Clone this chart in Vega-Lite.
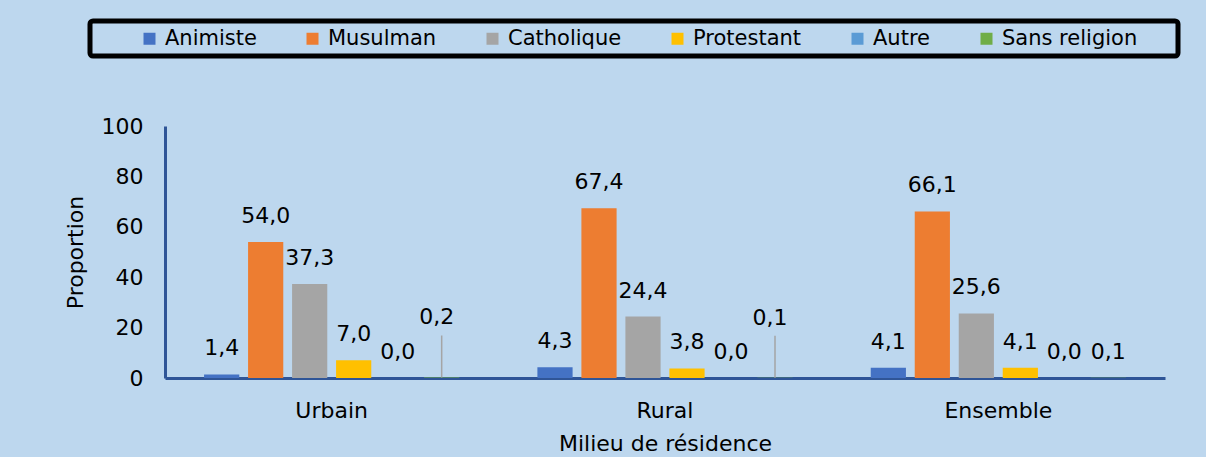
{
  "$schema": "https://vega.github.io/schema/vega-lite/v6.json",
  "width": 1000,
  "height": 252,
  "autosize": {"type": "none"},
  "padding": {"left": 165, "top": 126, "right": 41, "bottom": 79},
  "background": "#BDD7EE",
  "config": {
    "view": {"stroke": null},
    "font": "DejaVu Sans",
    "locale": {"number": {"decimal": ",", "thousands": " ", "grouping": [3], "currency": ["", " €"]}},
    "axis": {"labelFont": "DejaVu Sans", "titleFont": "DejaVu Sans", "labelColor": "black", "titleColor": "black", "titleFontWeight": "normal", "grid": false, "ticks": false},
    "legend": {"strokeWidth": 5}
  },
  "data": {
    "values": [
      {"milieu": "Urbain", "religion": "Animiste", "value": 1.4},
      {"milieu": "Urbain", "religion": "Musulman", "value": 54.0},
      {"milieu": "Urbain", "religion": "Catholique", "value": 37.3},
      {"milieu": "Urbain", "religion": "Protestant", "value": 7.0},
      {"milieu": "Urbain", "religion": "Autre", "value": 0.0},
      {"milieu": "Urbain", "religion": "Sans religion", "value": 0.2},
      {"milieu": "Rural", "religion": "Animiste", "value": 4.3},
      {"milieu": "Rural", "religion": "Musulman", "value": 67.4},
      {"milieu": "Rural", "religion": "Catholique", "value": 24.4},
      {"milieu": "Rural", "religion": "Protestant", "value": 3.8},
      {"milieu": "Rural", "religion": "Autre", "value": 0.0},
      {"milieu": "Rural", "religion": "Sans religion", "value": 0.1},
      {"milieu": "Ensemble", "religion": "Animiste", "value": 4.1},
      {"milieu": "Ensemble", "religion": "Musulman", "value": 66.1},
      {"milieu": "Ensemble", "religion": "Catholique", "value": 25.6},
      {"milieu": "Ensemble", "religion": "Protestant", "value": 4.1},
      {"milieu": "Ensemble", "religion": "Autre", "value": 0.0},
      {"milieu": "Ensemble", "religion": "Sans religion", "value": 0.1}
    ]
  },
  "encoding": {
    "x": {
      "field": "milieu", "type": "nominal", "sort": ["Urbain", "Rural", "Ensemble"],
      "scale": {"paddingInner": 0.208, "paddingOuter": 0.104},
      "axis": {"title": "Milieu de résidence", "labelAngle": 0, "labelFontSize": 22, "titleFontSize": 22, "labelPadding": 22, "titlePadding": 12, "domainColor": "#2F5597", "domainWidth": 3}
    },
    "xOffset": {
      "field": "religion", "type": "nominal",
      "sort": ["Animiste", "Musulman", "Catholique", "Protestant", "Autre", "Sans religion"],
      "scale": {"paddingInner": 0.2, "paddingOuter": 0.1}
    },
    "y": {
      "field": "value", "type": "quantitative",
      "scale": {"domain": [0, 100], "nice": false},
      "axis": {"title": "Proportion", "values": [0, 20, 40, 60, 80, 100], "labelFontSize": 22, "titleFontSize": 22, "labelPadding": 22, "titlePadding": 14, "domainColor": "#2F5597", "domainWidth": 3}
    }
  },
  "layer": [
    {
      "mark": {"type": "bar"},
      "encoding": {
        "color": {
          "field": "religion", "type": "nominal",
          "scale": {
            "domain": ["Animiste", "Musulman", "Catholique", "Protestant", "Autre", "Sans religion"],
            "range": ["#4472C4", "#ED7D31", "#A5A5A5", "#FFC000", "#5B9BD5", "#70AD47"]
          },
          "legend": {
            "orient": "none", "legendX": -75, "legendY": -105,
            "direction": "horizontal",
            "title": "\u00a0", "titleOrient": "left", "titlePadding": 42, "titleFontSize": 21,
            "padding": 7,
            "fillColor": "#BDD7EE", "strokeColor": "black", "cornerRadius": 3,
            "columnPadding": 45, "labelOffset": 5,
            "symbolType": "square", "symbolSize": 144, "symbolStrokeWidth": 0,
            "labelFont": "DejaVu Sans", "labelFontSize": 21, "labelColor": "black",
            "labelLimit": 400,
            "labelExpr": "datum.value == 'Sans religion' ? 'Sans religion\u00a0\u00a0\u00a0\u00a0\u00a0\u200b' : datum.label"
          }
        }
      }
    },
    {
      "transform": [{"filter": "!(datum.religion == 'Sans religion' && datum.milieu != 'Ensemble')"}],
      "mark": {"type": "text", "baseline": "middle", "dy": -26, "fontSize": 22, "font": "DejaVu Sans", "color": "black"},
      "encoding": {"text": {"field": "value", "type": "quantitative", "format": ".1f"}}
    },
    {
      "transform": [{"filter": "datum.religion == 'Sans religion' && datum.milieu != 'Ensemble'"}],
      "mark": {"type": "text", "baseline": "middle", "dy": -60, "dx": -5, "fontSize": 22, "font": "DejaVu Sans", "color": "black"},
      "encoding": {"text": {"field": "value", "type": "quantitative", "format": ".1f"}}
    },
    {
      "transform": [{"filter": "datum.religion == 'Sans religion' && datum.milieu != 'Ensemble'"}],
      "mark": {"type": "rule", "color": "#A5A5A5", "strokeWidth": 1.5, "y2Offset": -42},
      "encoding": {"y2": {"field": "value"}}
    }
  ]
}
